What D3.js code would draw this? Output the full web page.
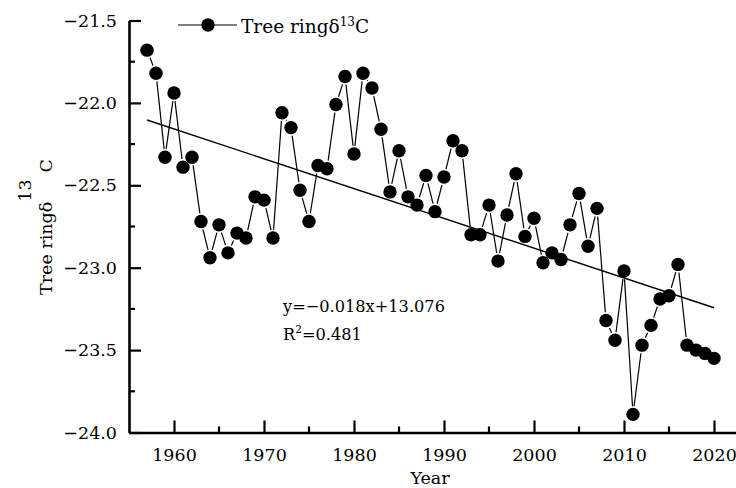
<!DOCTYPE html>
<html><head><meta charset="utf-8">
<script src="https://cdn.jsdelivr.net/npm/d3@7"></script>
<style>
html,body{margin:0;padding:0;background:#fff;}
svg{display:block;}
text{font-family:"DejaVu Serif",serif;fill:#000;}
</style></head>
<body>
<svg id="chart" width="736" height="488"></svg>
<script>
const years = [1957,1958,1959,1960,1961,1962,1963,1964,1965,1966,1967,1968,1969,1970,1971,1972,1973,1974,1975,1976,1977,1978,1979,1980,1981,1982,1983,1984,1985,1986,1987,1988,1989,1990,1991,1992,1993,1994,1995,1996,1997,1998,1999,2000,2001,2002,2003,2004,2005,2006,2007,2008,2009,2010,2011,2012,2013,2014,2015,2016,2017,2018,2019,2020];
const d13C = [-21.68,-21.82,-22.33,-21.94,-22.39,-22.33,-22.72,-22.94,-22.74,-22.91,-22.79,-22.82,-22.57,-22.59,-22.82,-22.06,-22.15,-22.53,-22.72,-22.38,-22.40,-22.01,-21.84,-22.31,-21.82,-21.91,-22.16,-22.54,-22.29,-22.57,-22.62,-22.44,-22.66,-22.45,-22.23,-22.29,-22.80,-22.80,-22.62,-22.96,-22.68,-22.43,-22.81,-22.70,-22.97,-22.91,-22.95,-22.74,-22.55,-22.87,-22.64,-23.32,-23.44,-23.02,-23.89,-23.47,-23.35,-23.19,-23.17,-22.98,-23.47,-23.50,-23.52,-23.55];
const trendYears = [1957, 2020];
const trendValues = [-22.104, -23.243];
const xMajorTicks = [1960,1970,1980,1990,2000,2010,2020];
const xMinorTicks = [1965,1975,1985,1995,2005,2015];
const yMajorTicks = [-21.5,-22.0,-22.5,-23.0,-23.5,-24.0];
const yMinorTicks = [-21.75,-22.25,-22.75,-23.25,-23.75];
const seriesName = "Tree ring";
const equationText = "y=\u22120.018x+13.076";
const r2Value = "0.481";

const svg = d3.select("#chart");
const x = d3.scaleLinear().domain([1955, 2022.5]).range([129, 736.5]);
const y = d3.scaleLinear().domain([-24, -21.5]).range([432.5, 20.5]);
const fmt = v => d3.format(".1f")(v).replace("-", "\u2212");

// trend line
svg.append("line")
  .attr("x1", x(trendYears[0])).attr("y1", y(trendValues[0]))
  .attr("x2", x(trendYears[1])).attr("y2", y(trendValues[1]))
  .attr("stroke", "#000").attr("stroke-width", 1.4);

// data line segments with gaps at symbols
const R = 6.7, gap = 1.5;
const pts = years.map((yr, i) => [x(yr), y(d13C[i])]);
const segs = [];
for (let i = 0; i < pts.length - 1; i++) {
  const [x1, y1] = pts[i], [x2, y2] = pts[i+1];
  const L = Math.hypot(x2 - x1, y2 - y1);
  const cut = R + gap;
  if (L > 2 * cut) {
    const ux = (x2 - x1) / L, uy = (y2 - y1) / L;
    segs.push([x1 + ux*cut, y1 + uy*cut, x2 - ux*cut, y2 - uy*cut]);
  }
}
svg.append("g").selectAll("line").data(segs).join("line")
  .attr("x1", d => d[0]).attr("y1", d => d[1])
  .attr("x2", d => d[2]).attr("y2", d => d[3])
  .attr("stroke", "#000").attr("stroke-width", 1.2);

svg.append("g").selectAll("circle").data(years).join("circle")
  .attr("cx", (d) => x(d)).attr("cy", (d, i) => y(d13C[i]))
  .attr("r", R).attr("fill", "#000");

// axes
const xAxis = svg.append("g").attr("transform", `translate(0,${y(-24)})`);
xAxis.call(d3.axisBottom(x).tickValues(xMajorTicks).tickSizeInner(-12).tickSizeOuter(0).tickPadding(16).tickFormat(d3.format("d")));
xAxis.append("g").selectAll("line").data(xMinorTicks).join("line")
  .attr("x1", d => x(d)).attr("x2", d => x(d)).attr("y1", 0).attr("y2", -6)
  .attr("stroke", "#000").attr("stroke-width", 2.2);
const yAxis = svg.append("g").attr("transform", `translate(${x(1955)},0)`);
yAxis.call(d3.axisLeft(y).tickValues(yMajorTicks).tickSizeInner(-12).tickSizeOuter(0).tickPadding(24).tickFormat(fmt));
yAxis.append("g").selectAll("line").data(yMinorTicks).join("line")
  .attr("y1", d => y(d)).attr("y2", d => y(d)).attr("x1", 0).attr("x2", 6)
  .attr("stroke", "#000").attr("stroke-width", 2.2);
svg.selectAll(".domain").attr("stroke", "#000").attr("stroke-width", 2.6);
svg.selectAll(".tick line").attr("stroke", "#000").attr("stroke-width", 2.2);
svg.selectAll(".tick text").attr("font-family", "DejaVu Serif").attr("font-size", 17.5).attr("fill", "#000");
yAxis.selectAll(".tick text").attr("x", -12);

// axis titles
svg.append("text").attr("x", 430).attr("y", 484).attr("text-anchor", "middle")
  .attr("font-size", 17.5).text("Year");
const yt = svg.append("text").attr("transform", "translate(52,295) rotate(-90)")
  .attr("font-size", 17.5);
yt.append("tspan").text(seriesName + "\u03b4");
yt.append("tspan").attr("dy", -21).attr("dx", 0).text("13");
yt.append("tspan").attr("dy", 21).attr("dx", 7).text("C");

// legend
svg.append("line").attr("x1", 178).attr("x2", 237).attr("y1", 25).attr("y2", 25)
  .attr("stroke", "#000").attr("stroke-width", 1.2);
svg.append("circle").attr("cx", 208).attr("cy", 25).attr("r", R).attr("fill", "#000");
const lt = svg.append("text").attr("x", 241).attr("y", 33).attr("font-size", 18.5);
lt.append("tspan").text(seriesName + "\u03b4");
lt.append("tspan").attr("dy", -7).attr("font-size", 12).text("13");
lt.append("tspan").attr("dy", 7).text("C");

// equation
svg.append("text").attr("x", 283).attr("y", 312).attr("font-size", 16.2).text(equationText);
const r2 = svg.append("text").attr("x", 283).attr("y", 340).attr("font-size", 16.2);
r2.append("tspan").text("R");
r2.append("tspan").attr("dy", -7).attr("font-size", 10.5).text("2");
r2.append("tspan").attr("dy", 7).text("=" + r2Value);
</script>
</body></html>
